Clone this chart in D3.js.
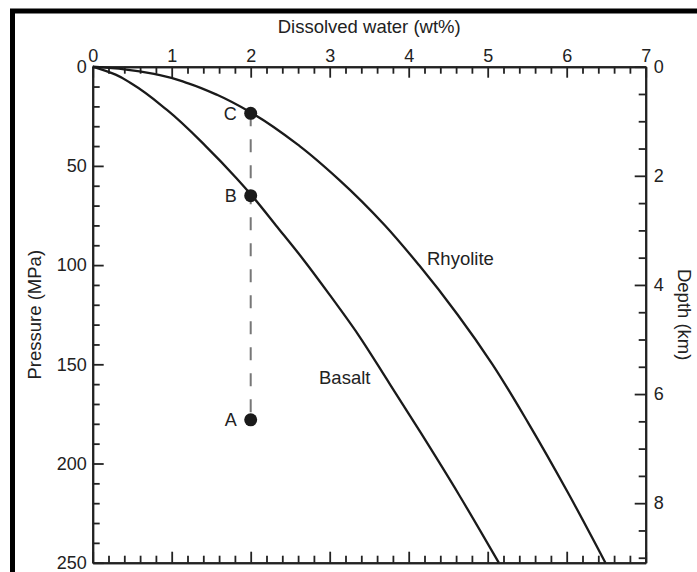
<!DOCTYPE html>
<html>
<head>
<meta charset="utf-8">
<script src="https://cdn.jsdelivr.net/npm/d3@7"></script>
<style>
  html, body { margin: 0; padding: 0; background: #fff; }
  svg { display: block; }
  text { font-family: "Liberation Sans", Arial, Helvetica, sans-serif; fill: #222; }
</style>
</head>
<body>
<svg id="chart" width="697" height="572"></svg>
<script>
// Water solubility curves: dissolved water (wt%) versus pressure (MPa)
const rhyoliteWater    = [0, 0.4, 0.85, 1.21, 1.58, 2.02, 2.62, 3.12, 3.7, 4.13, 4.62, 5.06, 5.52, 6.02, 6.49];
const rhyolitePressure = [0, 1.3, 4.2, 8.4, 14.3, 23.5, 40, 57, 80, 100, 125, 150, 180, 215, 250];

const basaltWater    = [0, 0.29, 0.5, 0.94, 1.43, 1.82, 2.02, 2.32, 2.67, 3.0, 3.36, 3.73, 4.16, 4.64, 5.14];
const basaltPressure = [0, 4, 8.7, 21.8, 40, 56.2, 65.2, 80, 97.4, 115, 135, 158, 185, 216, 250];

// Magma states on the 2 wt% path
const pointNames    = ["C", "B", "A"];
const pointWater    = [2.0, 2.0, 2.0];
const pointPressure = [23.5, 65, 178];

// Axis ticks
const waterTicks    = [0, 1, 2, 3, 4, 5, 6, 7];
const pressureTicks = [0, 50, 100, 150, 200, 250];
const depthTicks    = [0, 2, 4, 6, 8];
const mpaPerKm = 27.5;

const svg = d3.select("#chart");

const x = d3.scaleLinear().domain([0, 7]).range([92.7, 645.7]);
const y = d3.scaleLinear().domain([0, 250]).range([66.7, 562.7]);
const yDepth = d3.scaleLinear().domain([0, 250 / mpaPerKm]).range([66.7, 562.7]);

// outer frame
svg.append("rect")
  .attr("x", 12.5).attr("y", 11)
  .attr("width", 800).attr("height", 800)
  .attr("fill", "none").attr("stroke", "#000").attr("stroke-width", 5);

const minorWater = d3.range(0, 7.001, 0.2).filter(v => Math.abs(v - Math.round(v)) > 1e-6);
const minorPressure = d3.range(0, 250.1, 10).filter(v => v % 50 !== 0);
const minorDepth = d3.range(0, 250 / mpaPerKm, 0.5).filter(v => v % 2 !== 0);

function styleAxis(g) {
  g.selectAll("path.domain").attr("stroke", "#222").attr("stroke-width", 2);
  g.selectAll(".tick line").attr("stroke", "#222").attr("stroke-width", 1.8);
  g.selectAll(".tick text").style("font-size", "18px").attr("fill", "#222")
    .style("font-family", '"Liberation Sans", Arial, Helvetica, sans-serif');
}

// top axis (labelled)
svg.append("g").attr("transform", `translate(0,${y(0)})`)
  .call(d3.axisTop(x).tickValues(minorWater).tickSize(-7).tickSizeOuter(0).tickFormat(""))
  .call(styleAxis);
svg.append("g").attr("transform", `translate(0,${y(0)})`)
  .call(d3.axisTop(x).tickValues(waterTicks).tickSize(-11).tickSizeOuter(0).tickPadding(5).tickFormat(d3.format("d")))
  .call(styleAxis);

// bottom axis (ticks only)
svg.append("g").attr("transform", `translate(0,${y(250)})`)
  .call(d3.axisBottom(x).tickValues(minorWater).tickSize(-7).tickSizeOuter(0).tickFormat(""))
  .call(styleAxis);
svg.append("g").attr("transform", `translate(0,${y(250)})`)
  .call(d3.axisBottom(x).tickValues(waterTicks).tickSize(-11).tickSizeOuter(0).tickFormat(""))
  .call(styleAxis);

// left axis: pressure
svg.append("g").attr("transform", `translate(${x(0)},0)`)
  .call(d3.axisLeft(y).tickValues(minorPressure).tickSize(-7).tickSizeOuter(0).tickFormat(""))
  .call(styleAxis);
svg.append("g").attr("transform", `translate(${x(0)},0)`)
  .call(d3.axisLeft(y).tickValues(pressureTicks).tickSize(-11).tickSizeOuter(0).tickPadding(6).tickFormat(d3.format("d")))
  .call(styleAxis);

// right axis: depth
svg.append("g").attr("transform", `translate(${x(7)},0)`)
  .call(d3.axisRight(yDepth).tickValues(minorDepth).tickSize(-7).tickSizeOuter(0).tickFormat(""))
  .call(styleAxis);
svg.append("g").attr("transform", `translate(${x(7)},0)`)
  .call(d3.axisRight(yDepth).tickValues(depthTicks).tickSize(-11).tickSizeOuter(0).tickPadding(8).tickFormat(d3.format("d")))
  .call(styleAxis);

// axis titles
svg.append("text")
  .attr("x", (x(0) + x(7)) / 2).attr("y", 33)
  .attr("text-anchor", "middle").style("font-size", "18.5px")
  .text("Dissolved water (wt%)");
svg.append("text")
  .attr("transform", `translate(41,${(y(0) + y(250)) / 2}) rotate(-90)`)
  .attr("text-anchor", "middle").style("font-size", "18.5px")
  .text("Pressure (MPa)");
svg.append("text")
  .attr("transform", `translate(678,${(y(0) + y(250)) / 2}) rotate(90)`)
  .attr("text-anchor", "middle").style("font-size", "18.5px")
  .text("Depth (km)");

// solubility curves (water content is a function of pressure)
const line = d3.line().x(d => x(d[0])).y(d => y(d[1])).curve(d3.curveMonotoneY);
const rhyolite = d3.zip(rhyoliteWater, rhyolitePressure);
const basalt = d3.zip(basaltWater, basaltPressure);

svg.append("path").datum(rhyolite).attr("d", line)
  .attr("fill", "none").attr("stroke", "#1a1a1a").attr("stroke-width", 2.3);
svg.append("path").datum(basalt).attr("d", line)
  .attr("fill", "none").attr("stroke", "#1a1a1a").attr("stroke-width", 2.3);

svg.append("text").attr("x", 427).attr("y", 265).style("font-size", "18.5px").text("Rhyolite");
svg.append("text").attr("x", 319).attr("y", 384).style("font-size", "18.5px").text("Basalt");

// decompression path C-B-A
const pts = pointNames.map((n, i) => ({ name: n, w: pointWater[i], p: pointPressure[i] }));
svg.append("line")
  .attr("x1", x(pts[0].w)).attr("y1", y(pts[0].p))
  .attr("x2", x(pts[2].w)).attr("y2", y(pts[2].p))
  .attr("stroke", "#777").attr("stroke-width", 2)
  .attr("stroke-dasharray", "13,13");

svg.selectAll("circle.pt").data(pts).enter().append("circle")
  .attr("class", "pt")
  .attr("cx", d => x(d.w)).attr("cy", d => y(d.p)).attr("r", 6.5)
  .attr("fill", "#1a1a1a");

svg.selectAll("text.pt").data(pts).enter().append("text")
  .attr("class", "pt")
  .attr("x", d => x(d.w) - 14).attr("y", d => y(d.p) + 6.5)
  .attr("text-anchor", "end").style("font-size", "18px")
  .text(d => d.name);
</script>
</body>
</html>
